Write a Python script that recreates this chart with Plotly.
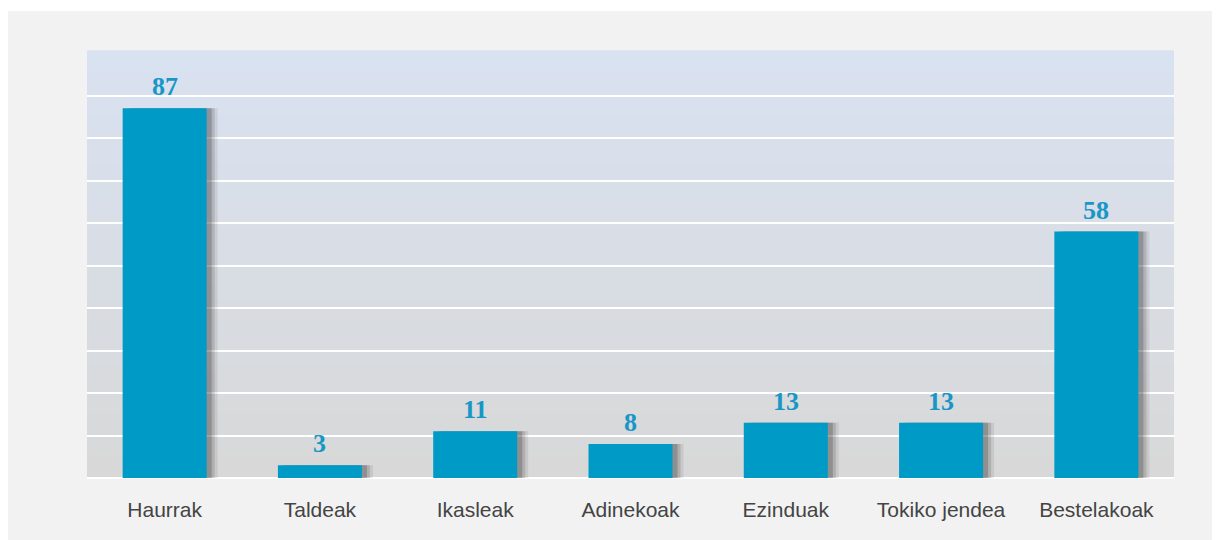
import plotly.graph_objects as go

categories = ["Haurrak", "Taldeak", "Ikasleak", "Adinekoak", "Ezinduak", "Tokiko jendea", "Bestelakoak"]
values = [87, 3, 11, 8, 13, 13, 58]
grid_vals = [0, 10, 20, 30, 40, 50, 60, 70, 80, 90]

BAR = "#009ac7"
LABEL = "#1797c6"
W, H = 1220, 540
ML, MR, MT, MB = 79, 54, 43, 70
PW, PH = W - ML - MR, H - MT - MB
BW = 0.541
px = 1.0 / (PW / len(categories))  # category units per pixel

fig = go.Figure()

# shadow layers
for dx, op in [(11, 0.10), (8, 0.18), (5, 0.28)]:
    fig.add_trace(go.Bar(
        x=categories, y=values, width=BW, offset=-BW / 2 + dx * px,
        marker=dict(color="rgba(60,60,60,%.2f)" % op, line_width=0),
        hoverinfo="skip", showlegend=False))

fig.add_trace(go.Bar(
    x=categories, y=values, width=BW, offset=-BW / 2,
    marker=dict(color=BAR, line_width=0), showlegend=False))

for c, v in zip(categories, values):
    fig.add_annotation(x=c, y=v, text=str(v), showarrow=False, yanchor="bottom",
                       yshift=5, font=dict(family="Liberation Serif", size=26, color=LABEL, weight="bold"))

shapes = []
# outer gray panel
shapes.append(dict(type="rect", xref="paper", yref="paper",
                   x0=-ML / PW - 0.01, x1=(W + 5 - ML) / PW,
                   y0=-(MB + 5) / PH, y1=(H - MB - 3) / PH,
                   fillcolor="#f2f2f2", line_width=0, layer="below"))
# gradient plot background
top = (217, 226, 241)
bot = (216, 216, 216)
N = 60
for k in range(N):
    t = k / (N - 1)
    col = tuple(round(bot[j] + (top[j] - bot[j]) * t) for j in range(3))
    shapes.append(dict(type="rect", xref="x domain", yref="y domain",
                       x0=0, x1=1, y0=k / N, y1=(k + 1) / N + 0.002,
                       fillcolor="rgb(%d,%d,%d)" % col, line_width=0, layer="below"))

fig.update_layout(
    width=W, height=H,
    margin=dict(l=ML, r=MR, t=MT, b=MB),
    paper_bgcolor="white", plot_bgcolor="rgba(0,0,0,0)",
    barmode="overlay", shapes=shapes,
    xaxis=dict(type="category", showgrid=False, showline=False, ticks="",
               tickfont=dict(family="Liberation Sans", size=21, color="#444444"),
               ticklabelstandoff=17,
               range=[-0.5, len(categories) - 0.5]),
    yaxis=dict(range=[0, 100.5], tickvals=grid_vals, showticklabels=False, showgrid=True,
               gridcolor="white", gridwidth=2, zeroline=True, zerolinecolor="white",
               zerolinewidth=2, showline=False, ticks=""),
)

fig.write_html("out.html")
